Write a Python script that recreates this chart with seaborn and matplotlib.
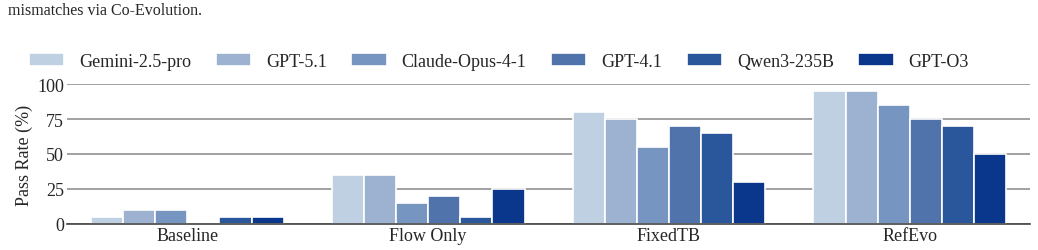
import numpy as np
import pandas as pd
import seaborn as sns
import matplotlib.pyplot as plt

sns.set_style("whitegrid")
plt.rcParams['font.family'] = ['Liberation Serif', 'DejaVu Serif']
plt.rcParams['font.size'] = 13

# data
settings = ["Baseline", "Flow Only", "FixedTB", "RefEvo"]
models = ["Gemini-2.5-pro", "GPT-5.1", "Claude-Opus-4-1", "GPT-4.1", "Qwen3-235B", "GPT-O3"]
gemini = [5, 35, 80, 95]
gpt51 = [10, 35, 75, 95]
claude = [10, 15, 55, 85]
gpt41 = [0, 20, 70, 75]
qwen = [5, 5, 65, 70]
gpto3 = [5, 25, 30, 50]
colors = ["#bfd0e3", "#9cb2d0", "#7696c1", "#5073ac", "#2a579b", "#0a378b"]

rows = []
for m, vals in zip(models, [gemini, gpt51, claude, gpt41, qwen, gpto3]):
    for s, v in zip(settings, vals):
        rows.append({"Setting": s, "Model": m, "Pass": v})
df = pd.DataFrame(rows)

fig = plt.figure(figsize=(10.38, 2.51), dpi=100)
ax = fig.add_axes([0.0645, 0.104, 0.928, 0.557])

sns.barplot(data=df, x="Setting", y="Pass", hue="Model", hue_order=models,
            order=settings, palette=colors, width=0.8, saturation=1,
            edgecolor="white", linewidth=1.2, ax=ax, legend=True)

ax.set_ylim(0, 100)
ax.set_xlim(-0.5, 3.5)
ax.set_yticks([0, 25, 50, 75, 100])
ax.set_xlabel("")
ax.set_ylabel("Pass Rate (%)", fontsize=13, labelpad=3)
ax.grid(axis="x", visible=False)
ax.grid(axis="y", color="#9a9a9a", linewidth=1.3)
ax.set_axisbelow(True)
for side in ["top", "right", "left"]:
    ax.spines[side].set_visible(False)
ax.spines["bottom"].set_color("#444444")
ax.spines["bottom"].set_linewidth(1.2)
ax.tick_params(axis="both", labelsize=13, pad=2, length=0)

handles, labels = ax.get_legend_handles_labels()
ax.legend_.remove()
fig.legend(handles, labels, ncol=6, frameon=False, loc="center left",
           bbox_to_anchor=(0.028, 0.752), fontsize=13,
           handlelength=1.95, handleheight=0.8, handletextpad=0.83,
           columnspacing=1.36, borderpad=0, borderaxespad=0)

fig.text(0.008, 0.955, "mismatches via Co-Evolution.", fontsize=11.5, va="center", ha="left")

fig.savefig("out.png", dpi=100)
